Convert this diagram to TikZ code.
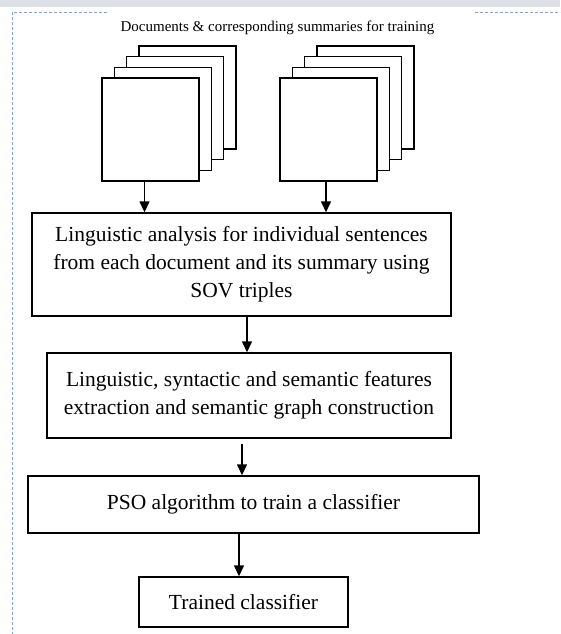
\documentclass[tikz,border=0pt]{standalone}
\usepackage{fontspec}
\setmainfont{Liberation Serif}
\usetikzlibrary{positioning, arrows.meta}

\definecolor{framecol}{RGB}{125,165,230}
\definecolor{bandcol}{RGB}{221,224,230}

\begin{document}
\begin{tikzpicture}[x=1pt, y=-1pt, font=\fontsize{21.5}{28}\selectfont,
  stepbox/.style={rectangle, draw, line width=1.4pt, align=center, inner sep=0pt},
  sheet/.style={rectangle, draw, line width=1.4pt, fill=white, minimum width=97pt, minimum height=103pt, inner sep=0pt},
  arrow/.style={-{Triangle[width=10pt,length=11pt]}, line width=1.4pt},
  frame/.style={framecol, line width=0.9pt, dash pattern=on 3pt off 2pt}
]
\useasboundingbox (0,0) rectangle (560,634);

% page band and dashed frame
\fill[bandcol] (0,0) rectangle (560,7);
\draw[frame] (107,12) -- (12,12) -- (12,634);
\draw[frame] (475,12) -- (560,12);

\node[font=\fontsize{15}{17}\selectfont] (title) at (277.5,28) {Documents \& corresponding summaries for training};

% document stacks
\foreach \k in {3,2,1}{
  \node[sheet] (docA\k) at (150.5+12.3*\k, 129.5-10.7*\k) {};
  \node[sheet] (docB\k) at (328.5+12.3*\k, 129.5-10.7*\k) {};
}
\node[sheet] (docA0) at (150.5,129.5) {};
\node[sheet] (docB0) at (328.5,129.5) {};

% process boxes
\node[stepbox, minimum width=419pt, minimum height=103pt] (analysis) at (241.5,264.5)
  {Linguistic analysis for individual sentences\\from each document and its summary using\\SOV triples};
\node[stepbox, minimum width=404pt, minimum height=85pt] (features) at (249,395.5)
  {Linguistic, syntactic and semantic features\\extraction and semantic graph construction};
\node[stepbox, minimum width=451pt, minimum height=57pt] (pso) at (253.5,504.5)
  {PSO algorithm to train a classifier};
\node[stepbox, minimum width=209pt, minimum height=50pt] (trained) at (243.5,602)
  {Trained classifier};

% connectors
\draw[arrow] ([xshift=-6pt]docA0.south) -- ([xshift=-6pt]docA0.south |- analysis.north);
\draw[arrow] ([xshift=-2.5pt]docB0.south) -- ([xshift=-2.5pt]docB0.south |- analysis.north);
\draw[arrow] ([xshift=5.5pt]analysis.south) -- ([xshift=5.5pt]analysis.south |- features.north);
\draw[arrow] ([xshift=-7pt,yshift=-5pt]features.south) -- ([xshift=-7pt]features.south |- pso.north);
\draw[arrow] ([xshift=-14.5pt]pso.south) -- ([xshift=-14.5pt]pso.south |- trained.north);

\end{tikzpicture}
\end{document}
